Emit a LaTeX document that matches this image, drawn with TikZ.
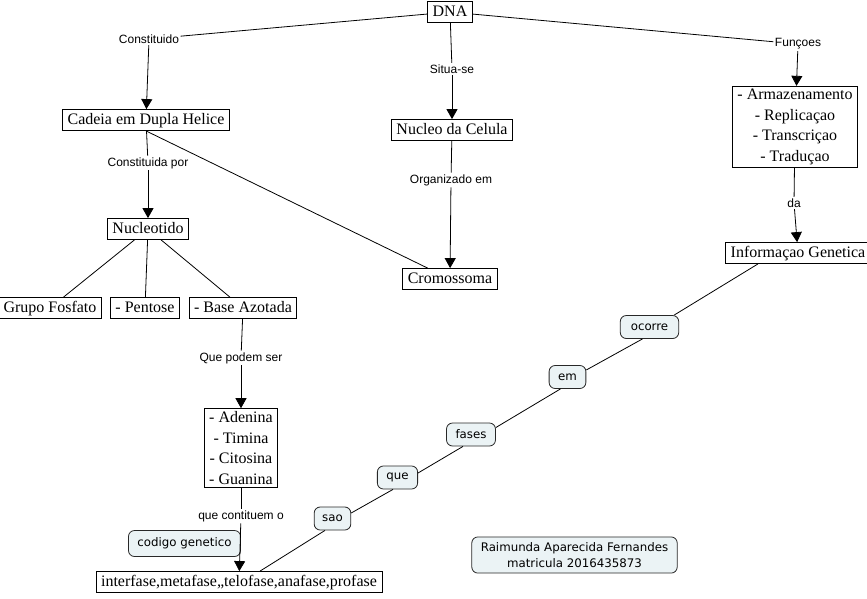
\documentclass[tikz,border=0pt]{standalone}
\usepackage{fontspec}
\setmainfont{Liberation Serif}
\newfontfamily\labfont{Liberation Sans}
\newfontfamily\verfont{DejaVu Sans}
\usetikzlibrary{arrows.meta}
\definecolor{phrasefill}{RGB}{235,243,245}
\definecolor{phrasedraw}{RGB}{40,40,40}
\begin{document}
\begin{tikzpicture}[x=1pt,y=-1pt,
 concept/.style={draw=black, line width=0.8pt, fill=white, font=\fontsize{16}{20}\selectfont, inner xsep=5pt, inner ysep=3pt, text height=11.5pt, text depth=3.5pt, align=center},
 multi/.style={draw=black, line width=0.8pt, fill=white, font=\fontsize{16}{20.5}\selectfont, inner xsep=5pt, inner ysep=3pt, align=center},
 link/.style={font=\labfont\fontsize{12}{14}\selectfont, inner sep=1.5pt},
 phrase/.style={draw=phrasedraw, fill=phrasefill, rounded corners=6pt, line width=0.8pt, font=\verfont\fontsize{11.8}{16}\selectfont, inner xsep=9pt, minimum height=23pt, align=center},
 conn/.style={line width=0.8pt, black},
 arr/.style={conn, -{Triangle[width=11pt,length=10pt]}}]
\useasboundingbox (0,0) rectangle (867,598);

% concepts
\node[concept] (dna) at (450,12) {DNA};
\node[concept] (cad) at (146,120) {Cadeia em Dupla Helice};
\node[concept] (nuccel) at (452,130) {Nucleo da Celula};
\node[multi] (arm) at (795,127) {- Armazenamento\\- Replica\c{c}ao\\- Transcri\c{c}ao\\- Tradu\c{c}ao};
\node[concept] (info) at (798,253) {Informa\c{c}ao Genetica};
\node[concept] (nucl) at (148,229) {Nucleotido};
\node[concept] (crom) at (450,279) {Cromossoma};
\node[concept] (gf) at (50,308) {Grupo Fosfato};
\node[concept] (pent) at (145,308) {- Pentose};
\node[concept] (base) at (243,308) {- Base Azotada};
\node[multi] (aden) at (241,448) {- Adenina\\- Timina\\- Citosina\\- Guanina};
\node[concept] (inter) at (239,582) {interfase,metafase,,telofase,anafase,profase};

% linking phrases (plain)
\node[link] (lconst) at (149,39) {Constituido};
\node[link] (lsitua) at (452,69) {Situa-se};
\node[link] (lfunc) at (798,44) {Fun\c{c}oes};
\node[link] (lconstp) at (148,163) {Constituida por};
\node[link] (lorg) at (451,180) {Organizado em};
\node[link] (lda) at (794,203) {da};
\node[link] (lqps) at (241,358) {Que podem ser};
\node[link] (lqco) at (241,516) {que contituem o};

% rounded phrases
\node[phrase, minimum height=26pt] (cod) at (184.5,543.5) {codigo genetico};
\node[phrase, inner xsep=10.5pt] (ocorre) at (649.5,327) {ocorre};
\node[phrase] (em) at (567.5,377) {em};
\node[phrase] (fases) at (471,434.5) {fases};
\node[phrase] (que) at (397.5,477.5) {que};
\node[phrase, inner xsep=8pt] (sao) at (332.5,518.5) {sao};
\node[phrase, inner ysep=5.5pt] (raim) at (574.5,555) {Raimunda Aparecida Fernandes\\matricula 2016435873};

% connectors
\draw[conn] (dna) -- (lconst);
\draw[arr] (lconst) -- (cad);
\draw[conn] (dna) -- (lsitua);
\draw[arr] (lsitua) -- (nuccel);
\draw[conn] (dna) -- (lfunc);
\draw[arr] (lfunc) -- (arm);
\draw[conn] (cad) -- (lconstp);
\draw[arr] (lconstp) -- (nucl);
\draw[conn] (cad.south) -- (crom);
\draw[conn] (nuccel) -- (lorg);
\draw[arr] (lorg) -- (crom);
\draw[conn] (arm) -- (lda);
\draw[arr] (lda) -- (info);
\draw[conn] (nucl) -- (gf);
\draw[conn] (nucl) -- (pent);
\draw[conn] (nucl) -- (base);
\draw[conn] (base) -- (lqps);
\draw[arr] (lqps) -- (aden);
\draw[conn] (aden) -- (lqco);
\draw[arr] (lqco) -- (inter);

\draw[conn] ([xshift=-40pt]info.south) -- ([xshift=-5pt]ocorre.north east);
\draw[conn] ([xshift=-7pt]ocorre.south) -- ([yshift=7pt]em.east);
\draw[conn] ([xshift=-7pt]em.south) -- ([yshift=7pt]fases.east);
\draw[conn] ([xshift=-8pt]fases.south) -- ([yshift=4.5pt]que.east);
\draw[conn] ([xshift=-4.5pt]que.south) -- ([yshift=5.5pt]sao.east);
\draw[conn] ([xshift=-7.5pt]sao.south) -- ([xshift=21pt]inter.north);
\end{tikzpicture}
\end{document}
